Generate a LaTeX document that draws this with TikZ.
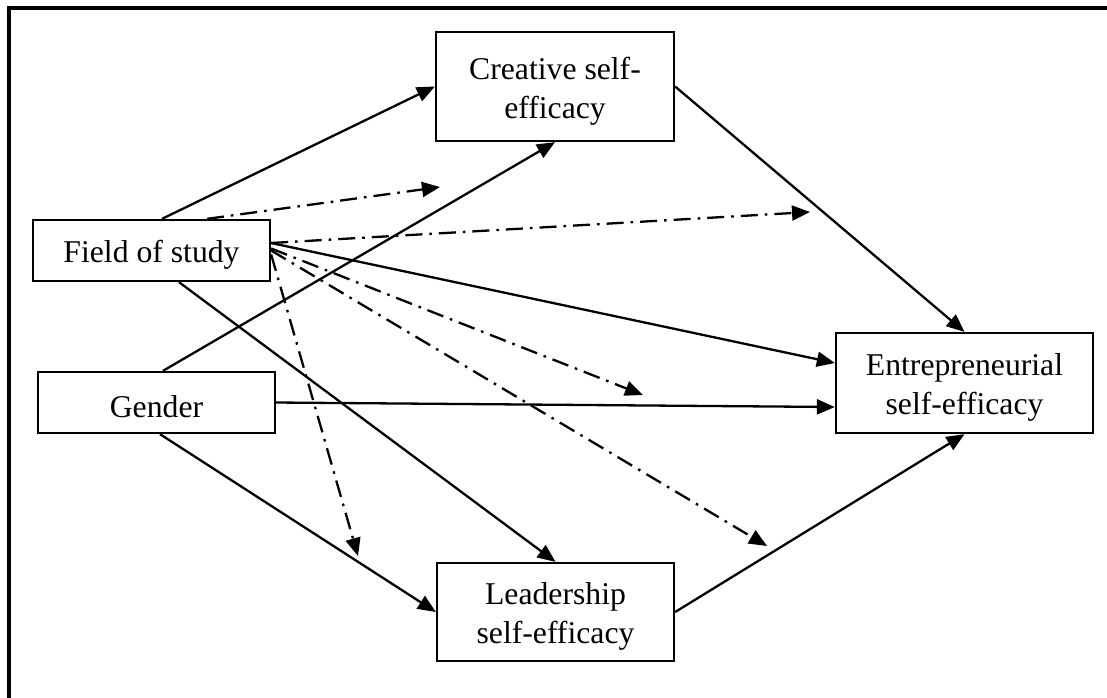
\documentclass[tikz,border=0pt]{standalone}
\usepackage{fontspec}
\setmainfont{Liberation Serif}
\usetikzlibrary{arrows.meta}
% invisible strut that sets the first line of a label a little lower
\newcommand{\firstline}{\rule{0pt}{15.5pt}}
\tikzset{
  box/.style={draw, line width=1.15pt, inner sep=0pt, align=center,
    font=\fontsize{15.85}{19.5}\selectfont},
  solidarrow/.style={line width=1.15pt, -{Triangle[length=9pt,width=7.5pt]}},
  dasharrow/.style={line width=1.15pt, dash pattern=on 8.5pt off 3.5pt on 1.3pt off 3.5pt,
    -{Triangle[length=9pt,width=7.5pt]}},
}
\begin{document}
\begin{tikzpicture}[x=0.5pt, y=-0.5pt]
\useasboundingbox (0,0) rectangle (1107,697);
% outer frame (runs off the right and bottom edges)
\draw[line width=1.6pt] (9,720) -- (9,8) -- (1130,8);

% variables
\node[box, minimum width=119pt, minimum height=54.5pt] (creative) at (555,86.5) {\firstline Creative self-\\efficacy};
\node[box, minimum width=118.5pt, minimum height=30.5pt] (field) at (151.5,250.5) {\firstline Field of study};
\node[box, minimum width=118.5pt, minimum height=30.5pt] (gender) at (156.5,402.5) {\firstline Gender};
\node[box, minimum width=128.5pt, minimum height=50pt] (ent) at (964.5,383) {\firstline Entrepreneurial\\self-efficacy};
\node[box, minimum width=118.5pt, minimum height=49pt] (leader) at (555.5,612) {\firstline Leadership\\self-efficacy};

% free ends of the moderation paths
\coordinate (m1) at (440,187);
\coordinate (m2) at (810,212);
\coordinate (m3) at (643,395);
\coordinate (m4) at (767,546);
\coordinate (m5) at (358,556);

% direct paths
\draw[solidarrow] ([xshift=5.25pt]field.north) -- (creative.west);
\draw[solidarrow] ([xshift=3.25pt]gender.north) -- (creative.south);
\draw[solidarrow] (creative.east) -- (ent.north);
\draw[solidarrow] ([yshift=3.75pt]field.east) -- ([yshift=10pt]ent.west);
\draw[solidarrow] (gender.east) -- ([yshift=-12pt]ent.west);
\draw[solidarrow] ([xshift=13.75pt]field.south) -- (leader.north);
\draw[solidarrow] ([xshift=1.75pt]gender.south) -- (leader.west);
\draw[solidarrow] (leader.east) -- (ent.south);

% moderation paths
\draw[dasharrow] ([xshift=27.75pt]field.north) -- (m1);
\draw[dasharrow] ([yshift=3.75pt]field.east) -- (m2);
\draw[dasharrow] ([yshift=1pt]field.east) -- (m3);
\draw[dasharrow] (field.east) -- (m4);
\draw[dasharrow] ([yshift=-2pt]field.east) -- (m5);
\end{tikzpicture}
\end{document}
